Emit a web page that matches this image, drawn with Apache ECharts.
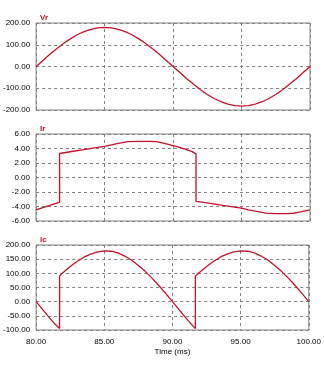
<!DOCTYPE html>
<html><head><meta charset="utf-8">
<script src="https://cdn.jsdelivr.net/npm/echarts@6/dist/echarts.min.js"></script>
<style>html,body{margin:0;padding:0;background:#fff}#c{width:324px;height:367px}</style>
</head><body><div id="c"></div>
<script>
// Time samples (ms)
var vrTime = [80,80.5,81,81.5,82,82.5,83,83.5,84,84.5,85,85.5,86,86.5,87,87.5,88,88.5,89,89.5,90,90.5,91,91.5,92,92.5,93,93.5,94,94.5,95,95.5,96,96.5,97,97.5,98,98.5,99,99.5,100];
var vrVal = [0,28,56,82,106,127,146,160,171,178,180,178,171,160,146,127,106,82,56,28,0,-28,-56,-82,-107,-129,-147,-162,-173,-180,-182,-180,-173,-162,-147,-129,-107,-82,-56,-28,0];

var irTime = [80,80.5,81,81.4,81.72,81.72,82.5,83.5,84.5,85,85.5,86,86.7,87.5,88.3,88.8,89.3,89.8,90.5,91.36,91.68,91.68,92.5,93.5,94.5,95,95.5,96,96.8,97.5,98.3,98.8,99.3,100];
var irVal = [-4.46,-4.15,-3.85,-3.6,-3.4,3.31,3.55,3.85,4.15,4.3,4.5,4.72,4.95,4.98,4.98,4.95,4.75,4.5,4.15,3.6,3.25,-3.3,-3.5,-3.8,-4.1,-4.22,-4.45,-4.65,-4.92,-4.97,-4.97,-4.93,-4.75,-4.46];

var icTime = [80,80.5,81,81.4,81.72,81.72,82,82.5,83,83.5,84,84.5,85,85.5,86,86.5,87,87.5,88,88.5,89,89.5,90,90.5,91,91.4,91.68,91.68,92,92.5,93,93.5,94,94.5,95,95.5,96,96.5,97,97.5,98,98.5,99,99.5,100];
var icVal = [0,-29,-58,-80,-95,91,104,124,142,157,168,176,179,178,172,161,147,128,107,83,57,29,0,-29,-58,-80,-95,91,104,124,142,157,168,176,179,178,172,161,147,128,107,83,57,29,0];

var panelTitles = ['Vr','Ir','ic'];
var xTitle = 'Time (ms)';

function pairs(t, v){ return t.map(function(x,i){ return [x, v[i]]; }); }

var FONT = 'Liberation Sans';
var RED = '#c8102e';
var GRID = '#808080';
var grids = [
  {left:36, width:274, top:23, height:87},
  {left:36, width:274, top:134, height:87},
  {left:36, width:274, top:245, height:85}
];
var yRanges = [[-200,200,100],[-6,6,2],[-100,200,50]];
var data = [pairs(vrTime,vrVal), pairs(irTime,irVal), pairs(icTime,icVal)];

var option = {
  animation:false,
  backgroundColor:'#fff',
  title: panelTitles.map(function(t,i){
    return {text:t, left:35, top:grids[i].top-14, textStyle:{fontSize:8, fontWeight:'bold', color:RED, fontFamily:FONT}};
  }),
  grid: grids.map(function(g){ return Object.assign({show:true, borderColor:GRID, borderWidth:1, backgroundColor:'transparent'}, g); }),
  xAxis: grids.map(function(g,i){
    return {
      type:'value', gridIndex:i, min:80, max:100, interval:5,
      name: i===2 ? xTitle : '', nameLocation:'middle', nameGap:18,
      nameTextStyle:{fontSize:8, color:'#000', fontFamily:FONT},
      axisLine:{show:false}, axisTick:{show:false},
      axisLabel:{show:i===2, fontSize:8, color:'#000', fontFamily:FONT, margin:8,
        formatter:function(v){return v.toFixed(2);}},
      splitLine:{show:true, lineStyle:{color:GRID, type:[3,3], width:1}}
    };
  }),
  yAxis: grids.map(function(g,i){
    var r = yRanges[i];
    return {
      type:'value', gridIndex:i, min:r[0], max:r[1], interval:r[2],
      axisLine:{show:false}, axisTick:{show:false},
      axisLabel:{fontSize:8, color:'#000', fontFamily:FONT, margin:6,
        formatter:function(v){return v.toFixed(2);}},
      splitLine:{show:true, lineStyle:{color:GRID, type:[3,3], width:1}}
    };
  }),
  series: data.map(function(d,i){
    return {type:'line', xAxisIndex:i, yAxisIndex:i, data:d, showSymbol:false, symbol:'none',
      lineStyle:{color:RED, width:1.3}, clip:true};
  })
};
echarts.init(document.getElementById('c')).setOption(option);
</script></body></html>
